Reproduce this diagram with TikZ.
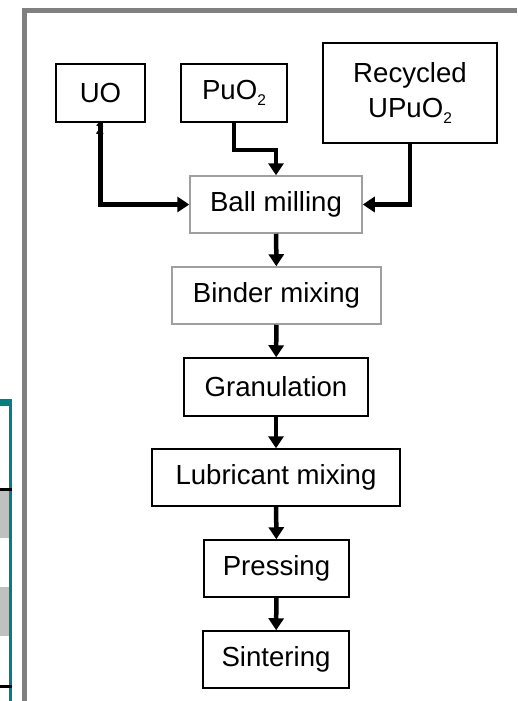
\documentclass[tikz,border=0pt]{standalone}
\usepackage{fontspec}
\setmainfont{Liberation Sans}
\usetikzlibrary{arrows.meta}
\definecolor{framegray}{HTML}{808080}
\definecolor{tabteal}{HTML}{008080}
\definecolor{rowgray}{HTML}{C0C0C0}
\newcommand\subnum[1]{\raisebox{-0.22em}{\fontsize{15.5}{16}\selectfont #1}}
\tikzset{
  stage/.style={draw, line width=1.5pt, inner sep=0pt, align=center,
    font=\fontsize{27.6}{35}\selectfont},
  softstage/.style={stage, draw=gray!75},
  flow/.style={line width=4.5pt, -{Triangle[width=15pt,length=12pt]}},
}
\begin{document}
\begin{tikzpicture}[x=1pt,y=1pt,yscale=-1]
  \useasboundingbox (0,0) rectangle (517,701);
  % cut-off table on the left
  \fill[tabteal] (0,399) rectangle (12,406);
  \fill[tabteal] (9,399) rectangle (12,701);
  \fill[rowgray] (0,491) rectangle (9,538);
  \fill[rowgray] (0,587) rectangle (9,636);
  \fill[black] (0,488) rectangle (12,491);
  \fill[black] (0,685) rectangle (12,688);
  % frame
  \fill[framegray] (22,8) rectangle (27,701);
  \fill[framegray] (22,8) rectangle (517,13);
  % feeds
  \node[stage, minimum width=89pt, minimum height=58pt] (uo) at (100.5,93) {UO};
  \node[stage, minimum width=106pt, minimum height=58pt] (puo) at (234,93) {PuO\subnum{2}};
  \node[stage, minimum width=174pt, minimum height=100pt] (recyc) at (410,93)
    {Recycled\\UPuO\subnum{2}};
  % process steps
  \node[softstage, minimum width=172pt, minimum height=57pt] (ball) at (276,204.5) {Ball milling};
  \node[softstage, minimum width=209pt, minimum height=57pt] (binder) at (276.5,295.5) {Binder mixing};
  \node[stage, minimum width=184pt, minimum height=58pt] (gran) at (276,387) {Granulation};
  \node[stage, minimum width=248pt, minimum height=57pt] (lubr) at (276,477.5) {Lubricant mixing};
  \node[stage, minimum width=145pt, minimum height=57pt] (press) at (276.5,568.5) {Pressing};
  \node[stage, minimum width=146pt, minimum height=57pt] (sinter) at (276,659.5) {Sintering};
  % arrows
  \draw[flow] (uo.south) |- (ball.west);
  \draw[flow] (puo.south) -- ++(0,27) -| (ball.north);
  \draw[flow] (recyc.south) |- (ball.east);
  \draw[flow] (ball) -- (binder);
  \draw[flow] (binder) -- (gran);
  \draw[flow] (gran) -- (lubr);
  \draw[flow] (lubr) -- (press);
  \draw[flow] (press) -- (sinter);
  \node[font=\fontsize{15.5}{16}\selectfont, inner sep=0pt] (uosub) at (100,129.5) {2};
\end{tikzpicture}
\end{document}
